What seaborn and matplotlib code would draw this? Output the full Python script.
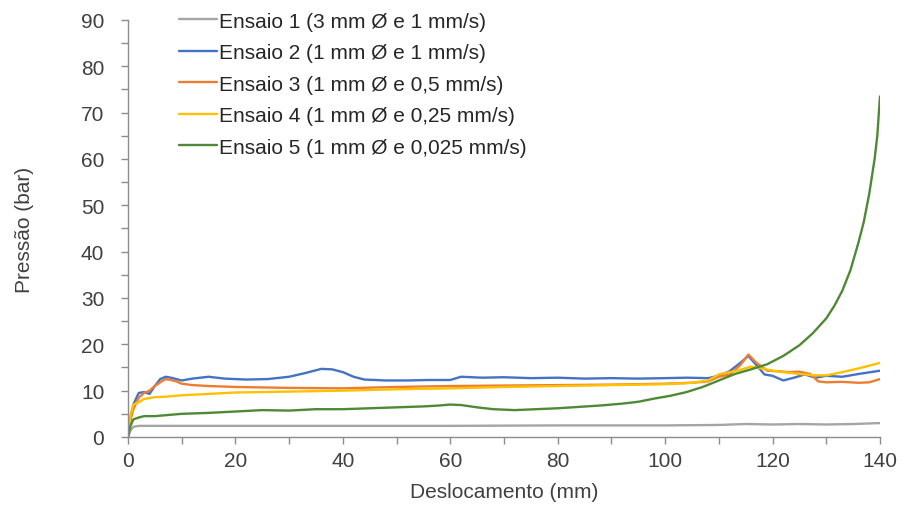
import matplotlib
matplotlib.use("Agg")
import matplotlib.pyplot as plt
from matplotlib.ticker import MultipleLocator
import pandas as pd
import seaborn as sns

sns.set_theme(style="white")
plt.rcParams["font.family"] = ["Liberation Sans", "DejaVu Sans"]

labels = [
    "Ensaio 1 (3 mm Ø e 1 mm/s)",
    "Ensaio 2 (1 mm Ø e 1 mm/s)",
    "Ensaio 3 (1 mm Ø e 0,5 mm/s)",
    "Ensaio 4 (1 mm Ø e 0,25 mm/s)",
    "Ensaio 5 (1 mm Ø e 0,025 mm/s)",
]
colors = ["#A5A5A5", "#4472C4", "#ED7D31", "#FFC000", "#4E8A35"]

# values
x1 = [0, 0.5, 1, 2, 5, 10, 20, 40, 60, 80, 100, 110, 115, 120, 125, 130, 135, 140]
y1 = [0, 1.5, 2.2, 2.4, 2.4, 2.4, 2.4, 2.4, 2.4, 2.5, 2.5, 2.6, 2.8, 2.7, 2.8, 2.7, 2.8, 3.0]

x2 = [0, 0.5, 1, 2, 3, 4, 5, 6, 7, 8, 10, 12, 15, 18, 22, 26, 30, 33, 36, 38,
      40, 42, 44, 48, 52, 56, 60, 62, 66, 70, 75, 80, 85, 90, 95, 100, 104, 108,
      110, 112, 114, 115.5, 117, 118.5, 120, 122, 124, 126, 128, 130, 133, 136, 140]
y2 = [0, 4, 7, 9.5, 9.7, 9.3, 11, 12.5, 13, 12.8, 12.2, 12.6, 13, 12.6, 12.4, 12.5, 13.0, 13.8, 14.7, 14.6,
      14.0, 13.0, 12.4, 12.2, 12.2, 12.3, 12.3, 13.0, 12.8, 12.9, 12.7, 12.8, 12.6, 12.7, 12.6, 12.7, 12.8, 12.7,
      13.2, 14.2, 16, 17.5, 15.5, 13.5, 13.2, 12.2, 12.8, 13.5, 12.8, 13.2, 13.0, 13.6, 14.3]

x3 = [0, 0.5, 1, 2, 3, 4, 5, 6, 7, 8, 9, 10, 12, 15, 20, 30, 40, 50, 60, 70, 80,
      90, 100, 105, 108, 110, 112, 114, 115.5, 117, 119, 121, 123, 125, 127, 128.5,
      130, 133, 136, 138, 140]
y3 = [0, 4, 6, 8.5, 9.5, 10, 11, 11.8, 12.5, 12.3, 12, 11.5, 11.2, 11, 10.8, 10.6, 10.5, 10.8, 11.0, 11.1, 11.2,
      11.3, 11.5, 11.7, 12, 13, 13.5, 15.5, 17.8, 16, 14.3, 14.2, 14.0, 14.1, 13.6, 12.0,
      11.8, 11.9, 11.7, 11.8, 12.5]

x4 = [0, 0.5, 1, 2, 3, 5, 7, 10, 15, 20, 30, 40, 50, 60, 70, 80, 90, 100, 105, 108,
      110, 112, 114, 116, 118, 120, 122, 125, 128, 130, 133, 136, 140]
y4 = [0, 5, 7, 7.5, 8.2, 8.6, 8.7, 9.0, 9.3, 9.6, 9.8, 10.0, 10.3, 10.5, 10.8, 11.0, 11.2, 11.4, 11.7, 12.2,
      13.5, 14.0, 14.5, 15.2, 14.8, 14.3, 14.0, 13.6, 13.3, 13.3, 14.0, 14.8, 16.0]

x5 = [0, 0.5, 1, 2, 3, 5, 8, 10, 15, 20, 25, 30, 35, 40, 45, 50, 55, 58, 60, 62,
      65, 68, 72, 76, 80, 84, 88, 92, 95, 98, 101, 104, 107, 110, 113, 116, 119, 122,
      125, 127.5, 130, 131.5, 133, 134.5, 136, 137, 138, 139, 139.5, 140]
y5 = [0, 2.5, 3.8, 4.2, 4.5, 4.5, 4.8, 5.0, 5.2, 5.5, 5.8, 5.7, 6.0, 6.0, 6.2, 6.4, 6.6, 6.8, 7.0, 6.9,
      6.4, 6.0, 5.8, 6.0, 6.2, 6.5, 6.8, 7.2, 7.6, 8.3, 8.9, 9.7, 10.8, 12.2, 13.6, 14.6, 15.7, 17.5,
      19.8, 22.4, 25.6, 28.3, 31.6, 36.0, 42.0, 46.5, 52.5, 60, 65, 73.5]

xs = [x1, x2, x3, x4, x5]
ys = [y1, y2, y3, y4, y5]
df = pd.concat(
    [pd.DataFrame({"x": x, "y": y, "serie": lab}) for x, y, lab in zip(xs, ys, labels)],
    ignore_index=True,
)

fig = plt.figure(figsize=(9.03, 5.06), dpi=100)
ax = fig.add_axes([0.1417, 0.1344, 0.8328, 0.8241])

sns.lineplot(data=df, x="x", y="y", hue="serie", hue_order=labels,
             palette=colors, estimator=None, sort=False, linewidth=1.7, ax=ax)

ax.set_xlim(0, 140)
ax.set_ylim(0, 90)
ax.xaxis.set_major_locator(MultipleLocator(20))
ax.xaxis.set_minor_locator(MultipleLocator(10))
ax.yaxis.set_major_locator(MultipleLocator(10))
ax.yaxis.set_minor_locator(MultipleLocator(5))
ax.tick_params(which="both", direction="out", length=5, width=1, color="#8C8C8C",
               labelsize=15, labelcolor="#404040", bottom=True, left=True)
ax.tick_params(axis="y", pad=12)
ax.tick_params(axis="x", pad=5)
sns.despine(ax=ax)
for s in ["left", "bottom"]:
    ax.spines[s].set_color("#8C8C8C")
    ax.spines[s].set_linewidth(1)

ax.set_xlabel("Deslocamento (mm)", fontsize=15, color="#404040", labelpad=9)
ax.set_ylabel("Pressão (bar)", fontsize=15, color="#404040", labelpad=34)

ax.legend(loc="upper left", bbox_to_anchor=(0.068, 1.02), frameon=False,
          fontsize=15, handlelength=1.8, handletextpad=0.1, labelspacing=0.6,
          borderaxespad=0, borderpad=0, labelcolor="#262626")

fig.savefig("out.png", dpi=100)
